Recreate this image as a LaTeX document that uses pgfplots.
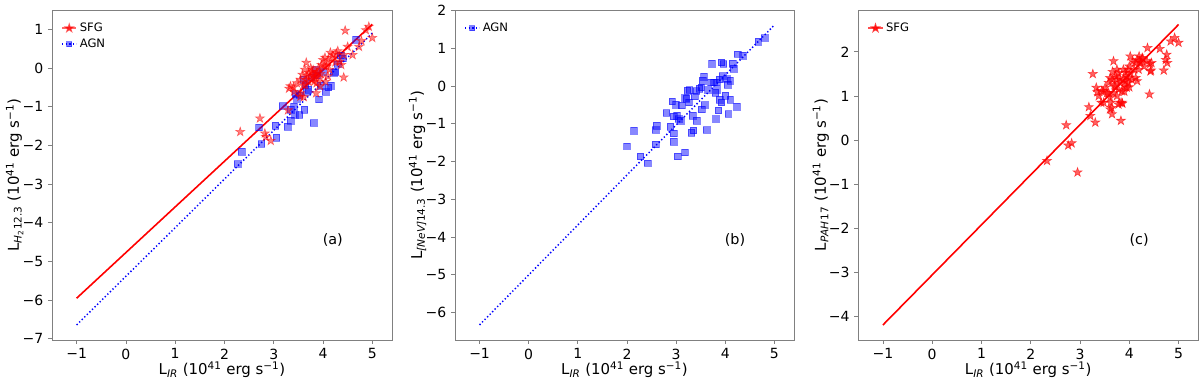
\documentclass[border=0pt]{standalone}
\usepackage{fontspec}
\setmainfont{DejaVu Sans}[ItalicFont={DejaVu Sans Oblique}]
\usepackage{pgfplots}
\pgfplotsset{compat=1.18}

\pgfdeclareplotmark{fstar}{%
  \pgfpathmoveto{\pgfpointpolar{90}{\pgfplotmarksize}}%
  \pgfpathlineto{\pgfpointpolar{126}{0.382\pgfplotmarksize}}%
  \pgfpathlineto{\pgfpointpolar{162}{\pgfplotmarksize}}%
  \pgfpathlineto{\pgfpointpolar{198}{0.382\pgfplotmarksize}}%
  \pgfpathlineto{\pgfpointpolar{234}{\pgfplotmarksize}}%
  \pgfpathlineto{\pgfpointpolar{270}{0.382\pgfplotmarksize}}%
  \pgfpathlineto{\pgfpointpolar{306}{\pgfplotmarksize}}%
  \pgfpathlineto{\pgfpointpolar{342}{0.382\pgfplotmarksize}}%
  \pgfpathlineto{\pgfpointpolar{18}{\pgfplotmarksize}}%
  \pgfpathlineto{\pgfpointpolar{54}{0.382\pgfplotmarksize}}%
  \pgfpathclose
  \pgfusepathqfillstroke
}

\pgfplotsset{
  panel/.style={
    scale only axis, width=255pt, height=247.5pt,
    xmin=-1.5, xmax=5.4,
    xtick={-1,0,1,2,3,4,5},
    xticklabels={−1,0,1,2,3,4,5},
    axis line style={black!50, line width=0.6pt},
    tick style={black!50, line width=0.6pt},
    tick align=outside, major tick length=3pt,
    xtick pos=left, ytick pos=left,
    ticklabel style={font=\fontsize{10.5}{12}\selectfont, text=black},
    label style={font=\fontsize{11.2}{13}\selectfont},
    xlabel={L\textsubscript{\textit{IR}} (10\textsuperscript{41} erg s\textsuperscript{−1})},
    xlabel style={at={(axis description cs:0.5,-0.091)}, anchor=center},
    ylabel style={at={(axis description cs:-0.11,0.5)}, anchor=center, rotate=0},
    legend style={draw=none, fill=none, font=\fontsize{8.7}{10}\selectfont,
      at={(0.015,0.978)}, anchor=north west, row sep=0pt},
    legend cell align=left,
    legend image code/.code={\draw[mark repeat=2,mark phase=2,##1] plot coordinates {(-6pt,0pt) (-0.6pt,0pt) (4.8pt,0pt)};},
  },
  sfgline/.style={red, line width=1.2pt, no marks, forget plot},
  agnline/.style={blue, line width=1.1pt, dash pattern=on 1pt off 1.7pt, no marks, forget plot},
  sfgpts/.style={only marks, mark=fstar, mark size=3.6pt, color=red, forget plot,
    mark options={fill=red, draw=none, opacity=#1}},
  sfgpts/.default=0.5,
  agnpts/.style={only marks, mark=square*, mark size=2.5pt, color=blue, forget plot,
    mark options={fill=blue, draw=none, opacity=0.47}},
  sfgleg/.style={red, line width=1pt, mark=fstar, mark size=2.8pt, opacity=#1, mark options={fill=red, draw=none}},
  agnleg/.style={blue, line width=1pt, dash pattern=on 1pt off 1.7pt, mark=square*, mark size=1.9pt, mark options={solid, fill=blue, draw=none, opacity=0.5}},
}

\begin{document}
\begin{tikzpicture}
\useasboundingbox (0,0) rectangle (900pt,288pt);

% ---------------- panel (a)
\begin{axis}[panel, at={(39pt,33pt)}, anchor=south west,
  ymin=-7.03, ymax=1.5,
  ytick={-7,-6,-5,-4,-3,-2,-1,0,1},
  yticklabels={−7,−6,−5,−4,−3,−2,−1,0,1},
  ylabel={L\textsubscript{\textit{H}\textsubscript{2}12.3} (10\textsuperscript{41} erg s\textsuperscript{−1})}]
\addlegendimage{sfgleg=0.6}
\addlegendentry{SFG}
\addlegendimage{agnleg}
\addlegendentry{AGN}
\addplot[agnpts] coordinates {
(2.27,-2.48) (2.35,-2.16) (2.70,-1.53) (2.75,-1.96) (3.03,-1.49) (3.05,-1.80)
(3.18,-0.98) (3.28,-1.51) (3.34,-1.36) (3.34,-1.08) (3.41,-1.00) (3.43,-1.21)
(3.52,-1.21) (3.62,-1.08) (3.81,-1.42) (3.44,-0.67) (3.52,-0.70) (3.64,-0.44)
(3.70,-0.56) (3.76,-0.24) (3.88,-0.19) (3.92,-0.81) (3.95,-0.46) (4.05,-0.62)
(4.11,-0.50) (4.16,-0.46) (4.25,-0.10) (4.36,0.33) (4.67,0.73) (3.60,-0.30)
(3.85,-0.05) (4.00,-0.10) (4.30,0.10) (3.67,-0.62) (3.47,-0.80) (4.22,-0.12)
(4.40,0.25)
};
\addplot[sfgpts] coordinates {
(2.32,-1.65) (2.72,-1.30) (2.82,-1.69) (2.84,-1.78) (2.94,-1.88) (3.31,-0.53)
(3.34,-0.47) (3.41,-0.61) (3.47,-0.39) (3.54,-0.30) (3.58,-0.17) (3.66,0.14)
(3.63,-0.04) (3.71,-0.13) (3.74,-0.22) (3.77,-0.09) (3.81,-0.17) (3.84,-0.26)
(3.87,-0.13) (3.91,0.00) (3.94,-0.26) (3.97,0.08) (4.00,0.21) (4.04,0.27)
(4.07,0.04) (4.10,0.17) (4.13,-0.04) (4.17,0.26) (4.20,0.34) (4.27,0.38)
(4.30,0.44) (4.34,0.17) (4.37,0.08) (4.42,-0.24) (4.42,0.34) (4.45,0.97)
(4.60,0.34) (4.73,0.55) (4.78,0.70) (4.87,0.98) (4.93,1.07) (5.00,0.78)
(3.61,-0.75) (3.54,-0.65) (3.64,-0.44) (4.10,-0.21) (3.87,-0.39) (3.94,-0.47)
(3.78,-0.30) (3.82,-0.35) (3.70,-0.35) (3.68,-0.20) (3.75,0.00) (3.90,-0.10)
(3.95,-0.15) (4.02,0.05) (3.85,-0.20) (3.80,-0.05) (3.60,-0.45) (3.40,-0.50)
(3.65,-0.30) (4.25,0.15) (4.15,0.40) (4.50,0.55) (3.86,-0.65) (4.05,-0.35)
(3.29,-1.09) (3.54,-0.74)
};
\addplot[sfgline] coordinates {(-1,-5.95) (5,1.13)};
\addplot[agnline] coordinates {(-1,-6.64) (5,0.90)};
\node[font=\fontsize{10.8}{12}\selectfont] at (rel axis cs:0.826,0.303) {(a)};
\end{axis}

% ---------------- panel (b)
\begin{axis}[panel, at={(341.25pt,33pt)}, anchor=south west, width=254.25pt,
  ymin=-6.73, ymax=2.02,
  ytick={-6,-5,-4,-3,-2,-1,0,1,2},
  yticklabels={−6,−5,−4,−3,−2,−1,0,1,2},
  ylabel={L\textsubscript{\textit{[NeV]}14.3} (10\textsuperscript{41} erg s\textsuperscript{−1})}]
\addlegendimage{agnleg}
\addlegendentry{AGN}
\addplot[agnpts] coordinates {
(2.00,-1.59) (2.14,-1.18) (2.27,-1.86) (2.42,-2.04) (2.58,-1.54) (2.58,-1.16)
(2.60,-1.05) (2.80,-0.71) (2.88,-1.07) (2.92,-0.40) (2.95,-0.80) (2.95,-1.25)
(2.95,-1.47) (3.00,-0.49) (3.02,-0.78) (3.05,-0.87) (3.03,-1.86) (3.09,-0.91)
(3.11,-0.51) (3.18,-0.31) (3.21,-0.33) (3.23,-0.12) (3.27,-0.10) (3.18,-1.75)
(3.26,-0.43) (3.31,-1.23) (3.34,-0.78) (3.35,-1.17) (3.38,-0.27) (3.41,-0.13)
(3.42,-0.91) (3.47,-0.07) (3.51,-0.03) (3.52,-0.61) (3.54,0.15) (3.57,0.25)
(3.58,-0.50) (3.62,-1.16) (3.65,-0.10) (3.73,0.60) (3.71,0.10) (3.77,0.10)
(3.80,-0.17) (3.83,0.10) (3.83,-0.10) (3.81,-0.87) (3.86,-0.64) (3.88,0.18)
(3.89,-0.36) (3.92,0.63) (3.92,-0.43) (3.96,0.59) (3.95,0.27) (4.00,-0.25)
(4.03,0.19) (4.05,0.04) (4.06,-0.74) (4.10,0.15) (4.10,-0.36) (4.15,0.60)
(4.17,0.47) (4.24,-0.54) (4.25,0.85) (4.36,0.81) (4.67,1.18) (4.80,1.28)
};
\addplot[agnline] coordinates {(-1,-6.33) (5,1.62)};
\node[font=\fontsize{10.8}{12}\selectfont] at (rel axis cs:0.826,0.303) {(b)};
\end{axis}

% ---------------- panel (c)
\begin{axis}[panel, at={(643.7pt,33pt)}, anchor=south west,
  ymin=-4.53, ymax=2.95,
  ytick={-4,-3,-2,-1,0,1,2},
  yticklabels={−4,−3,−2,−1,0,1,2},
  ylabel={L\textsubscript{\textit{PAH}\,17} (10\textsuperscript{41} erg s\textsuperscript{−1})}]
\addlegendimage{sfgleg=0.7}
\addlegendentry{SFG}
\addplot[sfgpts=0.62] coordinates {
(2.33,-0.47) (2.95,-0.73) (2.72,0.34) (2.76,-0.12) (2.83,-0.07) (3.18,0.75)
(3.21,0.55) (3.31,0.40) (3.26,1.50) (3.33,1.19) (3.35,1.09) (3.48,0.85)
(3.55,1.07) (3.62,0.85) (3.64,0.73) (3.65,0.59) (3.68,1.79) (3.71,1.22)
(3.75,1.37) (3.78,1.52) (3.81,0.85) (3.83,0.44) (3.86,0.83) (3.88,1.37)
(3.91,1.22) (3.94,1.45) (3.98,1.30) (4.00,1.67) (4.03,1.52) (4.07,1.79)
(4.10,1.60) (4.13,1.41) (4.16,1.82) (4.20,1.90) (4.23,1.75) (4.27,1.86)
(4.30,1.67) (4.37,2.09) (4.41,1.04) (4.42,1.73) (4.44,1.58) (4.62,2.07)
(4.70,1.58) (4.76,1.94) (4.74,1.82) (4.77,1.75) (4.84,2.24) (4.92,2.32)
(5.00,2.21) (3.38,1.00) (3.44,1.11) (3.51,1.19) (3.58,1.30) (3.65,1.37)
(3.72,1.45) (3.75,1.60) (3.78,1.15) (3.85,1.11) (3.92,1.53) (3.58,1.07)
(3.68,1.07) (3.82,1.30) (3.88,1.60) (3.95,1.19) (4.05,1.37) (4.12,1.75)
(4.19,1.60) (4.02,1.90) (4.26,1.86) (3.61,0.96) (3.75,1.00) (4.21,1.79)
(4.36,1.79) (4.45,1.75) (4.43,1.56) (3.92,1.34) (3.61,1.41) (3.47,1.11)
(3.43,0.85) (3.61,0.70) (3.78,0.81) (3.85,0.85) (3.99,1.41) (4.16,1.34)
(3.70,1.25) (3.80,1.40) (3.90,1.10) (4.00,1.20) (3.66,1.55) (3.97,1.60)
};
\addplot[sfgline] coordinates {(-1,-4.19) (5,2.62)};
\node[font=\fontsize{10.8}{12}\selectfont] at (rel axis cs:0.826,0.303) {(c)};
\end{axis}
\end{tikzpicture}
\end{document}
